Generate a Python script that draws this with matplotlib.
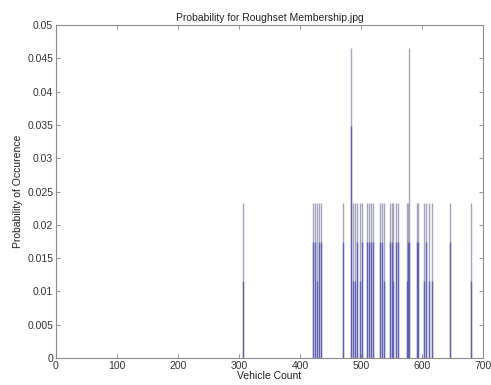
import matplotlib
matplotlib.use('Agg')
import matplotlib.pyplot as plt

plt.rcParams['font.family'] = ['Liberation Sans', 'DejaVu Sans']

counts = [306, 421, 424, 427, 431, 435, 471, 483, 486, 490, 494, 498, 501,
          510, 513, 517, 520, 531, 534, 538, 547, 550, 553, 558, 561,
          575, 577, 579, 591, 594, 603, 607, 611, 616, 645, 680]
prob_outer = [0.0233, 0.0233, 0.0233, 0.0233, 0.0233, 0.0233, 0.0233, 0.0465, 0.0233, 0.0233, 0.0233, 0.0233, 0.0233,
              0.0233, 0.0233, 0.0233, 0.0233, 0.0233, 0.0233, 0.0233, 0.0233, 0.0233, 0.0233, 0.0233, 0.0233,
              0.0233, 0.0233, 0.0465, 0.0233, 0.0233, 0.0233, 0.0233, 0.0233, 0.0233, 0.0233, 0.0233]
prob_inner = [0.0116, 0.0174, 0.0174, 0.0116, 0.0174, 0.0174, 0.0174, 0.0349, 0.0116, 0.0116, 0.0174, 0.0116, 0.0174,
              0.0174, 0.0174, 0.0174, 0.0174, 0.0174, 0.0174, 0.0116, 0.0174, 0.0174, 0.0116, 0.0174, 0.0174,
              0.0116, 0.0174, 0.0174, 0.0174, 0.0174, 0.0116, 0.0174, 0.0116, 0.0116, 0.0174, 0.0116]

xticks = [0, 100, 200, 300, 400, 500, 600, 700]
yticks = [0, 0.005, 0.01, 0.015, 0.02, 0.025, 0.03, 0.035, 0.04, 0.045, 0.05]

fig = plt.figure(figsize=(4.91, 3.85), dpi=100)
ax = fig.add_axes([0.114, 0.070, 0.870, 0.865])

ax.vlines(counts, 0, prob_outer, colors='#a4a4bc', linewidth=1.0)
ax.vlines(counts, 0, prob_inner, colors='#6262b4', linewidth=1.0)

ax.set_xlim(0, 700)
ax.set_ylim(0, 0.05)
ax.set_xticks(xticks)
ax.set_yticks(yticks)
ax.set_xticklabels([str(t) for t in xticks])
ax.set_yticklabels(['0', '0.005', '0.01', '0.015', '0.02', '0.025', '0.03',
                    '0.035', '0.04', '0.045', '0.05'])
ax.tick_params(direction='in', length=3, width=0.6, colors='#808080',
               labelcolor='#333333', labelsize=7.5, top=True, right=True, pad=2)
for s in ax.spines.values():
    s.set_color('#8c8c8c')
    s.set_linewidth(0.8)

ax.set_title('Probability for Roughset Membership.jpg', fontsize=7.5, color='#222222', pad=3)
ax.set_xlabel('Vehicle Count', fontsize=7.5, color='#222222', labelpad=0)
ax.set_ylabel('Probability of Occurence', fontsize=7.5, color='#222222', labelpad=3)

fig.savefig('out.png', dpi=100)
